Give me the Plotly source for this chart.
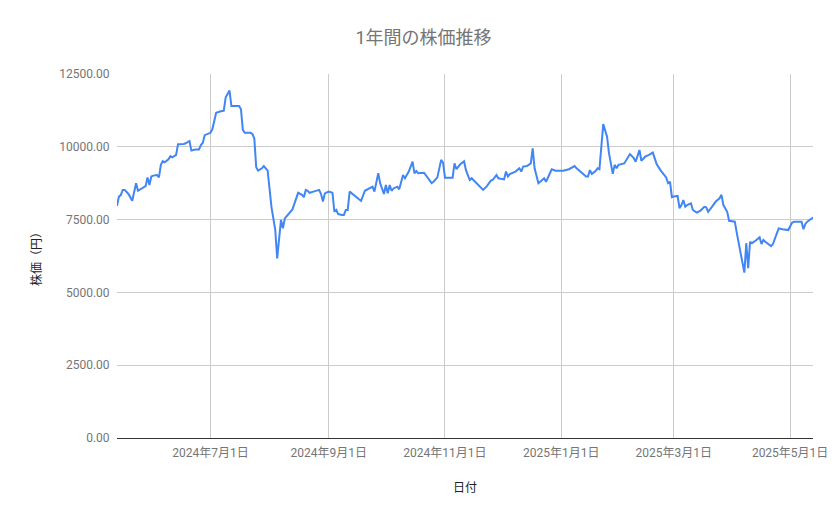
import plotly.graph_objects as go

# 日付と終値
dates = [
    "2024-05-13", "2024-05-14", "2024-05-15", "2024-05-16", "2024-05-17", "2024-05-19",
    "2024-05-21", "2024-05-23", "2024-05-24", "2024-05-26", "2024-05-28", "2024-05-29",
    "2024-05-30", "2024-05-31", "2024-06-01", "2024-06-03", "2024-06-04", "2024-06-05",
    "2024-06-06", "2024-06-07", "2024-06-09", "2024-06-10", "2024-06-11", "2024-06-13",
    "2024-06-14", "2024-06-17", "2024-06-18", "2024-06-20", "2024-06-21", "2024-06-23",
    "2024-06-25", "2024-06-26", "2024-06-27", "2024-06-28", "2024-07-01", "2024-07-02",
    "2024-07-04", "2024-07-06", "2024-07-08", "2024-07-09", "2024-07-11", "2024-07-12",
    "2024-07-16", "2024-07-17", "2024-07-18", "2024-07-19", "2024-07-22", "2024-07-23",
    "2024-07-24", "2024-07-25", "2024-07-26", "2024-07-28", "2024-07-29", "2024-07-31",
    "2024-08-02", "2024-08-04", "2024-08-05", "2024-08-07", "2024-08-08", "2024-08-09",
    "2024-08-11", "2024-08-13", "2024-08-16", "2024-08-18", "2024-08-19", "2024-08-20",
    "2024-08-21", "2024-08-22", "2024-08-24", "2024-08-27", "2024-08-28", "2024-08-29",
    "2024-08-30", "2024-09-01", "2024-09-03", "2024-09-04", "2024-09-05", "2024-09-06",
    "2024-09-08", "2024-09-09", "2024-09-10", "2024-09-11", "2024-09-12", "2024-09-15",
    "2024-09-18", "2024-09-20", "2024-09-22", "2024-09-24", "2024-09-25", "2024-09-27",
    "2024-09-28", "2024-09-30", "2024-10-01", "2024-10-02", "2024-10-03", "2024-10-04",
    "2024-10-05", "2024-10-07", "2024-10-08", "2024-10-10", "2024-10-11", "2024-10-13",
    "2024-10-15", "2024-10-16", "2024-10-17", "2024-10-18", "2024-10-21", "2024-10-23",
    "2024-10-25", "2024-10-26", "2024-10-28", "2024-10-30", "2024-10-31", "2024-11-01",
    "2024-11-05", "2024-11-06", "2024-11-07", "2024-11-09", "2024-11-11", "2024-11-12",
    "2024-11-14", "2024-11-15", "2024-11-18", "2024-11-21", "2024-11-23", "2024-11-25",
    "2024-11-26", "2024-11-28", "2024-11-29", "2024-12-02", "2024-12-03", "2024-12-04",
    "2024-12-05", "2024-12-08", "2024-12-10", "2024-12-11", "2024-12-12", "2024-12-14",
    "2024-12-16", "2024-12-17", "2024-12-18", "2024-12-20", "2024-12-22", "2024-12-23",
    "2024-12-24", "2024-12-27", "2024-12-29", "2025-01-02", "2025-01-05", "2025-01-08",
    "2025-01-09", "2025-01-12", "2025-01-14", "2025-01-15", "2025-01-16", "2025-01-17",
    "2025-01-19", "2025-01-20", "2025-01-21", "2025-01-23", "2025-01-25", "2025-01-26",
    "2025-01-28", "2025-01-29", "2025-01-30", "2025-01-31", "2025-02-03", "2025-02-06",
    "2025-02-08", "2025-02-09", "2025-02-11", "2025-02-12", "2025-02-14", "2025-02-16",
    "2025-02-18", "2025-02-20", "2025-02-22", "2025-02-25", "2025-02-26", "2025-02-27",
    "2025-02-28", "2025-03-01", "2025-03-03", "2025-03-04", "2025-03-05", "2025-03-06",
    "2025-03-07", "2025-03-08", "2025-03-10", "2025-03-11", "2025-03-13", "2025-03-15",
    "2025-03-17", "2025-03-18", "2025-03-19", "2025-03-21", "2025-03-23", "2025-03-25",
    "2025-03-26", "2025-03-27", "2025-03-29", "2025-03-30", "2025-04-02", "2025-04-03",
    "2025-04-05", "2025-04-06", "2025-04-07", "2025-04-08", "2025-04-09", "2025-04-10",
    "2025-04-11", "2025-04-13", "2025-04-15", "2025-04-16", "2025-04-17", "2025-04-18",
    "2025-04-21", "2025-04-22", "2025-04-25", "2025-04-27", "2025-04-30", "2025-05-02",
    "2025-05-03", "2025-05-07", "2025-05-08", "2025-05-09", "2025-05-10", "2025-05-13",
]

prices = [
    7970, 8290, 8340, 8520, 8520, 8380,
    8150, 8750, 8490, 8570, 8650, 8950,
    8690, 8980, 9010, 9030, 8950, 9380,
    9510, 9470, 9570, 9680, 9640, 9720,
    10090, 10100, 10120, 10200, 9870, 9910,
    9910, 10060, 10140, 10400, 10480, 10600,
    11170, 11210, 11240, 11700, 11930, 11400,
    11400, 11290, 10580, 10480, 10480, 10440,
    10290, 9300, 9180, 9260, 9340, 9180,
    7940, 7140, 6170, 7490, 7200, 7540,
    7690, 7850, 8420, 8350, 8270, 8520,
    8490, 8420, 8460, 8520, 8380, 8120,
    8400, 8460, 8420, 7770, 7830, 7690,
    7660, 7660, 7830, 7830, 8460, 8290,
    8140, 8490, 8570, 8630, 8460, 9090,
    8750, 8380, 8690, 8400, 8690, 8490,
    8570, 8630, 8540, 9030, 8920, 9150,
    9490, 9090, 9170, 9090, 9110, 8950,
    8750, 8800, 8950, 9550, 9450, 8940,
    8940, 9430, 9230, 9400, 9500, 9200,
    8860, 8920, 8720, 8520, 8650, 8840,
    8860, 9030, 8920, 8880, 9150, 8980,
    9060, 9150, 9260, 9150, 9320, 9340,
    9430, 9950, 9260, 8750, 8860, 8920,
    8800, 9230, 9180, 9180, 9230, 9340,
    9260, 9090, 8980, 8980, 9200, 9070,
    9170, 9260, 9230, 10780, 10350, 9780,
    9070, 9380, 9260, 9380, 9430, 9750,
    9610, 9490, 9890, 9520, 9660, 9720,
    9800, 9410, 9200, 8950, 8750, 8800,
    8270, 8290, 8310, 7890, 8000, 8170,
    7940, 8000, 8060, 7830, 7740, 7810,
    7940, 7920, 7770, 7940, 8120, 8230,
    8350, 8000, 7770, 7460, 7430, 7050,
    6340, 6050, 5680, 6690, 5830, 6740,
    6690, 6780, 6890, 6660, 6800, 6740,
    6590, 6660, 7200, 7170, 7140, 7390,
    7430, 7430, 7170, 7350, 7430, 7570,
]

tick_dates = ["2024-07-01", "2024-09-01", "2024-11-01", "2025-01-01", "2025-03-01", "2025-05-01"]
tick_labels = ["2024年7月1日", "2024年9月1日", "2024年11月1日", "2025年1月1日", "2025年3月1日", "2025年5月1日"]
y_ticks = [0, 2500, 5000, 7500, 10000, 12500]

font_family = "Roboto, 'Noto Sans CJK JP', sans-serif"

# ページの body に 8px の余白が付くので、その分だけ図を小さくする
fig_w, fig_h = 831, 511

fig = go.Figure()
fig.add_trace(go.Scatter(
    x=dates,
    y=prices,
    mode="lines",
    line=dict(color="#4285F4", width=2),
    showlegend=False,
))

fig.update_layout(
    width=fig_w,
    height=fig_h,
    paper_bgcolor="white",
    plot_bgcolor="white",
    margin=dict(l=109, r=26, t=66, b=81),
    font=dict(family=font_family, size=12, color="#757575"),
    title=dict(
        text="1年間の株価推移",
        x=0.5,
        xanchor="center",
        y=1 - 30 / fig_h,
        yanchor="middle",
        font=dict(size=18, color="#757575"),
    ),
    xaxis=dict(
        range=[dates[0], dates[-1]],
        tickvals=tick_dates,
        ticktext=tick_labels,
        showgrid=True,
        gridcolor="#cccccc",
        gridwidth=1,
        showline=True,
        linecolor="#333333",
        linewidth=1,
        ticks="outside",
        ticklen=4,
        tickcolor="rgba(0,0,0,0)",
        tickfont=dict(size=12, color="#757575"),
        title=dict(text="日付", font=dict(size=12, color="#222222"), standoff=24),
        automargin=False,
    ),
    yaxis=dict(
        range=[0, 12500],
        tickvals=y_ticks,
        tickformat=".2f",
        showgrid=True,
        gridcolor="#cccccc",
        gridwidth=1,
        zeroline=False,
        ticks="outside",
        ticklen=4,
        tickcolor="rgba(0,0,0,0)",
        tickfont=dict(size=12, color="#757575"),
        title=dict(text="株価（円）", font=dict(size=12, color="#222222"), standoff=15),
        automargin=False,
    ),
)

fig.write_html("out.html")
